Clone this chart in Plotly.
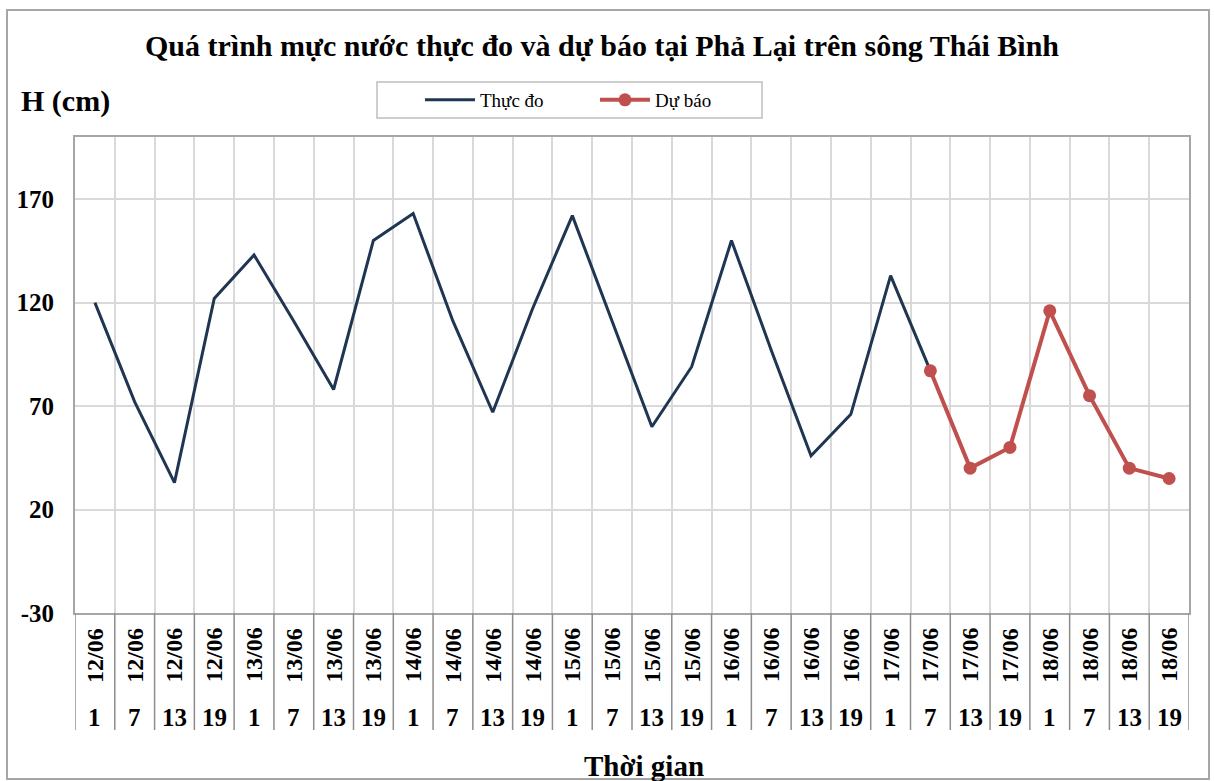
import plotly.graph_objects as go

# ---- data ----
dates = ["12/06"] * 4 + ["13/06"] * 4 + ["14/06"] * 4 + ["15/06"] * 4 + ["16/06"] * 4 + ["17/06"] * 4 + ["18/06"] * 4
hours = ["1", "7", "13", "19"] * 7
thuc_do = [120, 72, 33, 122, 143, 111, 78, 150, 163, 111, 67, 117, 162, 111, 60, 89, 150, 97, 46, 66, 133, 87]
du_bao = [87, 40, 50, 116, 75, 40, 35]
du_bao_start = 21  # index of "17/06 7"
y_ticks = [-30, 20, 70, 120, 170]

FONT = "Liberation Serif"
n = len(dates)
x_idx = list(range(n))

fig = go.Figure()
fig.add_trace(go.Scatter(
    x=x_idx[:len(thuc_do)], y=thuc_do, mode="lines", name="Thực đo",
    line=dict(color="#1f3552", width=3),
))
fig.add_trace(go.Scatter(
    x=x_idx[du_bao_start:du_bao_start + len(du_bao)], y=du_bao, mode="lines+markers", name="Dự báo",
    line=dict(color="#c0504d", width=4),
    marker=dict(symbol="circle", size=13, color="#c0504d"),
))

# category boundaries for gridlines
bounds = [i - 0.5 for i in range(n + 1)]

fig.update_xaxes(
    range=[-0.5, n - 0.5], tickmode="array", tickvals=bounds, showticklabels=False,
    showgrid=True, gridcolor="#d9d9d9", gridwidth=1.5, zeroline=False,
    showline=True, linecolor="#a6a6a6", linewidth=2, mirror=True, ticks="",
)
fig.update_yaxes(
    range=[-30, 200], tickmode="array", tickvals=y_ticks, ticktext=[str(v) for v in y_ticks],
    showgrid=True, gridcolor="#d9d9d9", gridwidth=1.5, zeroline=False,
    showline=True, linecolor="#a6a6a6", linewidth=2, mirror=True, ticks="",
    tickfont=dict(family=FONT, size=25, color="black", weight="bold"),
    ticklabelstandoff=14,
)

PT, PB, PL, PR = 137, 613, 75, 1189
H = PB - PT

def py(pix):
    return (PB - pix) / H

def px(pix):
    return (pix - PL) / (PR - PL)

annotations = []
for i in range(n):
    annotations.append(dict(
        x=i, y=py(655), xref="x", yref="paper", text=dates[i], showarrow=False,
        textangle=-90, font=dict(family=FONT, size=24, color="black", weight="bold"),
        xanchor="center", yanchor="middle",
    ))
    annotations.append(dict(
        x=i, y=py(717), xref="x", yref="paper", text=hours[i], showarrow=False,
        font=dict(family=FONT, size=25, color="black", weight="bold"),
        xanchor="center", yanchor="middle",
    ))
annotations.append(dict(
    x=px(19), y=py(101), xref="paper", yref="paper", text="H (cm)", showarrow=False,
    font=dict(family=FONT, size=30, color="black", weight="bold"), xanchor="left", yanchor="middle",
))
annotations.append(dict(
    x=px(644), y=py(766), xref="paper", yref="paper", text="Thời gian", showarrow=False,
    font=dict(family=FONT, size=29, color="black", weight="bold"), xanchor="center", yanchor="middle",
))

shapes = []
for b in bounds:
    shapes.append(dict(type="line", xref="x", yref="paper", x0=b, x1=b, y0=0, y1=py(730),
                       line=dict(color="#8c8c8c", width=1.5)))
shapes.append(dict(type="rect", xref="paper", yref="paper", x0=px(7), x1=px(1209), y0=py(779), y1=py(10),
                   line=dict(color="#a6a6a6", width=2), layer="below"))
# legend frame
shapes.append(dict(type="rect", xref="paper", yref="paper", x0=px(377), x1=px(762), y0=py(118), y1=py(82),
                   line=dict(color="#bfbfbf", width=1.5), layer="below"))

fig.update_layout(
    width=1214, height=781,
    margin=dict(l=PL, r=1214 - PR, t=PT, b=781 - PB),
    paper_bgcolor="white", plot_bgcolor="white",
    title=dict(text="Quá trình mực nước thực đo và dự báo tại Phả Lại trên sông Thái Bình",
               x=602 / 1214, xref="container", xanchor="center", y=1 - 45 / 781, yref="container", yanchor="middle",
               font=dict(family=FONT, size=30, color="black", weight="bold")),
    legend=dict(orientation="h", x=px(420), y=py(100), xanchor="left", yanchor="middle",
                borderwidth=0, bgcolor="rgba(0,0,0,0)",
                font=dict(family=FONT, size=19, color="black"),
                entrywidth=110, itemwidth=50, tracegroupgap=0),
    annotations=annotations, shapes=shapes, showlegend=True,
)

fig.write_html("out.html", config={"displayModeBar": False},
               post_script="document.body.style.margin='0';document.body.style.overflow='hidden';")
